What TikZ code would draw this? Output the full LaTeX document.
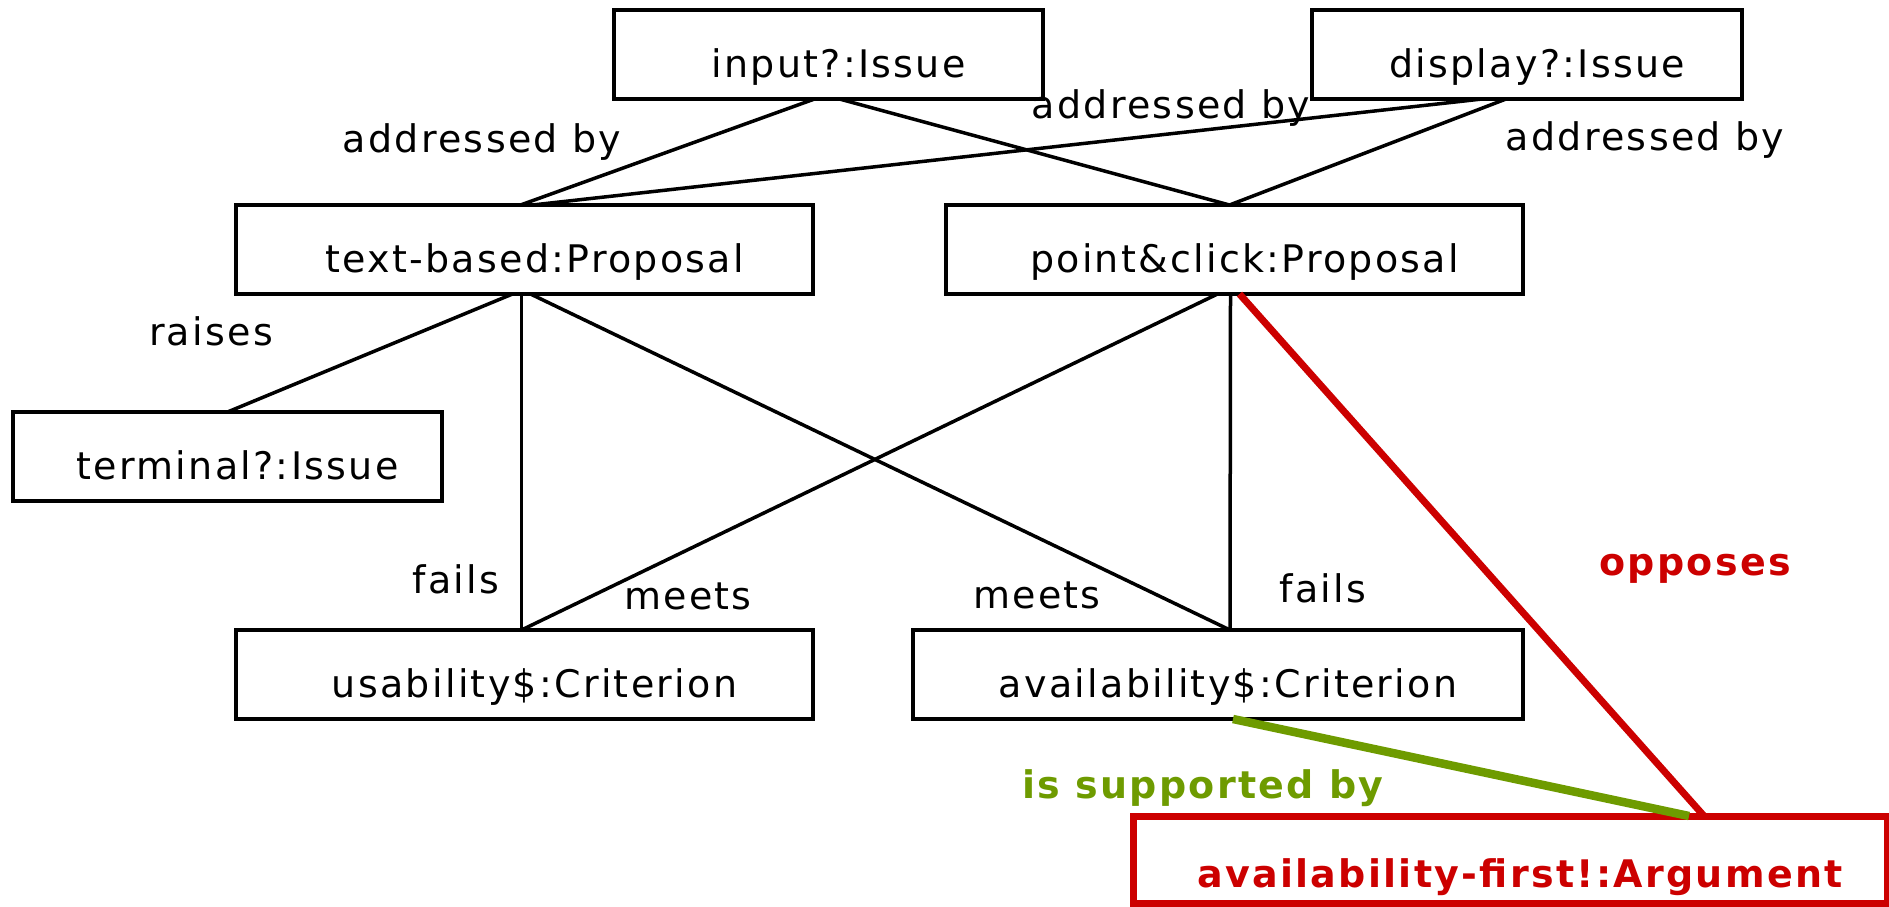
\documentclass[tikz,border=0pt]{standalone}
\usepackage{fontspec}
\setmainfont{DejaVu Sans}[LetterSpace=6]
\usepackage{tikz}
\usetikzlibrary{positioning}
\definecolor{argred}{RGB}{204,0,0}
\definecolor{supgreen}{RGB}{110,155,0}

\begin{document}
\begin{tikzpicture}[x=1pt,y=-1pt,
        font=\fontsize{38pt}{44pt}\selectfont,
        box/.style = {
            draw,
            line width=3.5pt,
            inner sep=0pt,
            outer sep=0pt,
            minimum height=89pt,
            text height=56pt,
            text depth=11pt,
            execute at begin node={\hspace*{20pt}}
        },
        link/.style = {line width=3.5pt},
        lab/.style = {inner sep=0pt, anchor=base},
        node distance=133pt]

        \useasboundingbox (0,0) rectangle (1889,906);

        \node[box, minimum width=577pt] (tb) at (524.5,249.5) {text-based:Proposal};
        \node[box, minimum width=577pt, right=of tb] (pc) {point\&click:Proposal};
        \node[box, minimum width=577pt, below=336pt of tb] (us) {usability\$:Criterion};
        \node[box, minimum width=610pt, below=336pt of pc.south east, anchor=north east] (av) {availability\$:Criterion};
        \node[box, minimum width=429pt] (inp) at (828.5,54.5) {input?:Issue};
        \node[box, minimum width=430pt] (disp) at (1527,54.5) {display?:Issue};
        \node[box, minimum width=429pt] (term) at (227.5,456.5) {terminal?:Issue};
        \node[box, draw=argred, line width=7pt, minimum width=754pt, minimum height=87pt,
              text height=66pt, text depth=11pt, text=argred, font=\fontsize{38pt}{44pt}\selectfont\bfseries]
              (arg) at (1510,859.5) {availability-first!:Argument};

        \draw[link] ([xshift=-14pt]inp.south) -- ([xshift=-4pt]tb.north);
        \draw[link] ([xshift=11pt]inp.south) -- ([xshift=-5pt]pc.north);
        \draw[link] ([xshift=-45pt]disp.south) -- ([xshift=8pt]tb.north);
        \draw[link] ([xshift=-21pt]disp.south) -- ([xshift=-5pt]pc.north);
        \draw[link] ([xshift=-12pt]tb.south) -- (term.north);
        \draw[link] ([xshift=-3pt]tb.south) -- ([xshift=-3pt]us.north);
        \draw[link] ([xshift=6pt]tb.south) -- ([xshift=12pt]av.north);
        \draw[link] ([xshift=-17pt]pc.south) -- ([xshift=-3pt]us.north);
        \draw[link] ([xshift=-4pt]pc.south) -- ([xshift=12pt]av.north);
        \draw[link, draw=argred, line width=7pt] ([xshift=5pt]pc.south) -- ([xshift=194pt]arg.north);
        \draw[link, draw=supgreen, line width=8.5pt] ([xshift=15pt]av.south) -- ([xshift=179pt]arg.north);

        \node[lab] (l1) at (482,152) {addressed by};
        \node[lab] (l2) at (1171,118) {addressed by};
        \node[lab] (l3) at (1645,150) {addressed by};
        \node[lab] (l4) at (211,345) {raises};
        \node[lab] (l5) at (456,593) {fails};
        \node[lab] (l6) at (688,609) {meets};
        \node[lab] (l7) at (1037,608) {meets};
        \node[lab] (l8) at (1323,602) {fails};
        \node[lab, text=argred, font=\fontsize{38pt}{44pt}\selectfont\bfseries] (l9) at (1695,575) {opposes};
        \node[lab, text=supgreen, font=\fontsize{38pt}{44pt}\selectfont\bfseries] (l10) at (1203,798) {is supported by};
    \end{tikzpicture}
\end{document}
